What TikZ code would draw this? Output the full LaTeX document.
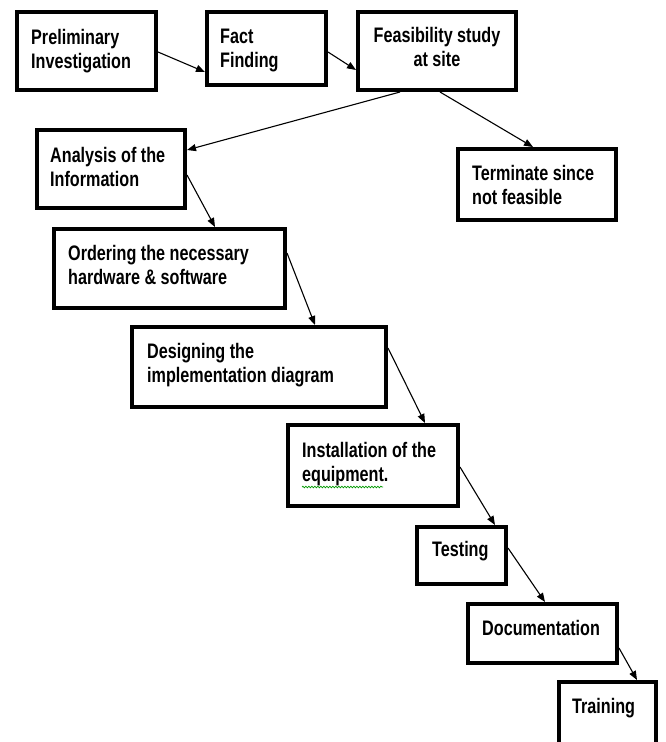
\documentclass[tikz,border=0pt]{standalone}
\usepackage{fontspec}
\setmainfont{Liberation Sans}[FakeStretch=0.77]
\usetikzlibrary{arrows.meta,decorations.pathmorphing}
\begin{document}
\begin{tikzpicture}[x=1pt,y=-1pt,
  box/.style={draw=black,line width=4pt,rectangle,inner sep=0pt,fill=white},
  lbl/.style={inner sep=0pt,anchor=north west,align=left,font=\fontsize{21}{24.5}\selectfont\bfseries},
  flow/.style={line width=1.1pt,-{Triangle[length=9pt,width=7pt]}}]
\useasboundingbox (0,0) rectangle (665,742);
% boxes
\node[box,minimum width=139pt,minimum height=78pt] (b1) at (86.5,51) {};
\node[box,minimum width=119pt,minimum height=73pt] (b2) at (266.5,48.5) {};
\node[box,minimum width=158pt,minimum height=78pt] (b3) at (437,51) {};
\node[box,minimum width=158pt,minimum height=71pt] (b4) at (537,184.5) {};
\node[box,minimum width=148pt,minimum height=78pt] (b5) at (111,169) {};
\node[box,minimum width=231pt,minimum height=79pt] (b6) at (169.5,268.5) {};
\node[box,minimum width=254pt,minimum height=80pt] (b7) at (259,367) {};
\node[box,minimum width=170pt,minimum height=81pt] (b8) at (373,465.5) {};
\node[box,minimum width=89pt,minimum height=57pt] (b9) at (461.5,555.5) {};
\node[box,minimum width=149pt,minimum height=59pt] (b10) at (542.5,633.5) {};
\node[box,minimum width=97pt,minimum height=78pt] (b11) at (607.5,721) {};
% labels
\node[lbl] (t1) at (31,27) {\strut Preliminary\\\strut Investigation};
\node[lbl] (t2) at (220,26) {\strut Fact\\\strut Finding};
\node[lbl,anchor=north,align=center] (t3) at (437,25) {\strut Feasibility study\\\strut at site};
\node[lbl] (t4) at (472,163) {\strut Terminate since\\\strut not feasible};
\node[lbl] (t5) at (50,145) {\strut Analysis of the\\\strut Information};
\node[lbl] (t6) at (68,243) {\strut Ordering the necessary\\\strut hardware \& software};
\node[lbl] (t7) at (147,341) {\strut Designing the\\\strut implementation diagram};
\node[lbl] (t8) at (302,440) {\strut Installation of the\\\strut equipment.};
\node[lbl] (t9) at (432,539) {\strut Testing};
\node[lbl] (t10) at (482,618) {\strut Documentation};
\node[lbl] (t11) at (572,696) {\strut Training};
% spell-check squiggle
\coordinate (sq1) at (302,487);
\coordinate (sq2) at (383,487);
\draw[green!60!black,line width=0.7pt,decorate,decoration={snake,segment length=3pt,amplitude=0.8pt}] (sq1) -- (sq2);
% connectors
\draw[flow] ([yshift=-1pt]b1.east) -- ([yshift=-23.5pt]b2.west);
\draw[flow] ([yshift=-3.5pt]b2.east) -- ([yshift=-19pt]b3.west);
\draw[flow] ([xshift=-37pt]b3.south) -- ([yshift=19pt]b5.east);
\draw[flow] ([xshift=3pt]b3.south) -- ([xshift=-4pt]b4.north);
\draw[flow] ([yshift=-6pt]b5.east) -- ([xshift=45.5pt]b6.north);
\draw[flow] ([yshift=15.5pt]b6.east) -- ([xshift=56pt]b7.north);
\draw[flow] ([yshift=19pt]b7.east) -- ([xshift=52pt]b8.north);
\draw[flow] ([yshift=-1.5pt]b8.east) -- ([xshift=33.5pt]b9.north);
\draw[flow] ([yshift=7.5pt]b9.east) -- ([xshift=2.5pt]b10.north);
\draw[flow] ([yshift=-14.5pt]b10.east) -- ([xshift=29.5pt]b11.north);
\end{tikzpicture}
\end{document}
